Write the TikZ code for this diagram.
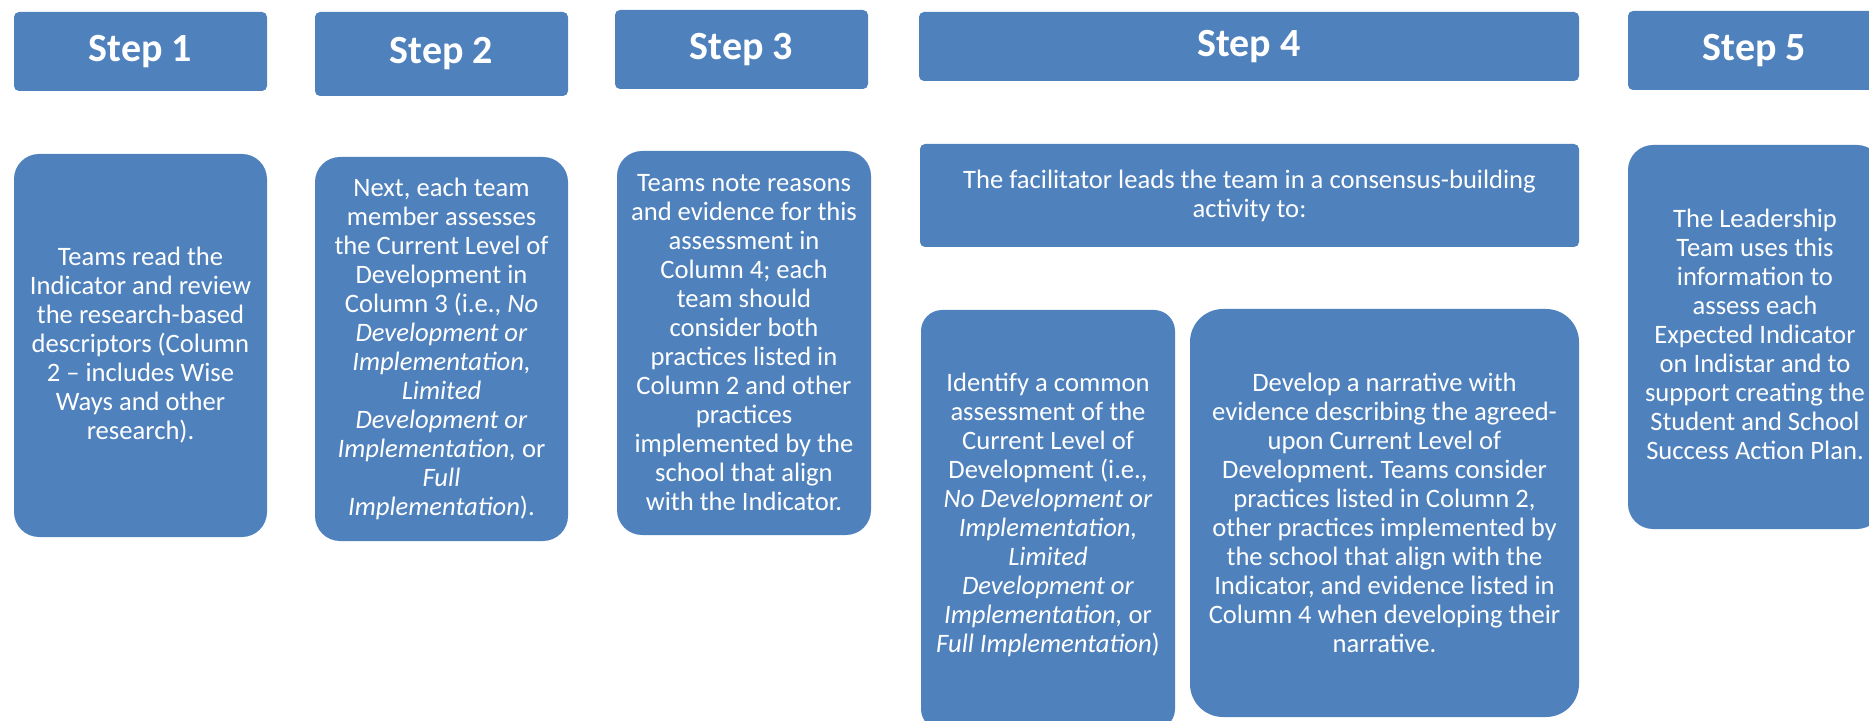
\documentclass[tikz,border=0pt]{standalone}
\usepackage{fontspec}
\setmainfont{Carlito}
\frenchspacing
\usetikzlibrary{fit}
\definecolor{stepblue}{HTML}{4F81BD}
\tikzset{
  panel/.style={fill=stepblue, draw=none, inner sep=0pt, outer sep=0pt},
  headbox/.style={panel, rounded corners=2.5pt},
  bodybox/.style={panel, rounded corners=12.5pt},
  headtext/.style={text=white, font={\fontsize{20}{24}\selectfont\bfseries}, inner sep=0pt},
  bodytext/.style={text=white, align=center, inner sep=0pt,
    font={\fontsize{13.3}{14.5}\selectfont}},
}
\begin{document}
\begin{tikzpicture}[x=0.5pt, y=-0.5pt]
\useasboundingbox (0,0) rectangle (1869,721);
\clip (0,0) rectangle (1869,721);

% header row
\node[headbox, fit={(14,12) (267,91)}] (h1) {};
\node[headbox, fit={(315,12) (568,96)}] (h2) {};
\node[headbox, fit={(615,10) (868,89)}] (h3) {};
\node[headbox, fit={(919,12) (1579,81)}] (h4) {};
\node[headbox, fit={(1628,11) (1881,90)}] (h5) {};

\node[headtext] (h1t) at (h1.center) {Step 1};
\node[headtext] (h2t) at (h2.center) {Step 2};
\node[headtext] (h3t) at (h3.center) {Step 3};
\node[headtext] (h4t) at (h4.center) {Step 4};
\node[headtext] (h5t) at (h5.center) {Step 5};

% body panels
\node[bodybox, fit={(14,154) (267,537)}] (b1) {};
\node[bodybox, fit={(315,157) (568,541)}] (b2) {};
\node[bodybox, fit={(617,151) (871,535)}] (b3) {};
\node[headbox, fit={(920,144) (1579,247)}] (b4) {};
\node[panel, rounded corners=10.5pt, fit={(921,310) (1175,730)}] (b4a) {};
\node[panel, rounded corners=16.5pt, fit={(1190,309) (1579,717)}] (b4b) {};
\node[bodybox, fit={(1628,145) (1882,529)}] (b5) {};

\node[bodytext] (b1t) at (b1.center) {Teams read the\\Indicator and review\\the research-based\\descriptors (Column\\2 – includes Wise\\Ways and other\\research).};

\node[bodytext] (b2t) at (b2.center) {Next, each team\\member assesses\\the Current Level of\\Development in\\Column 3 (i.e., \textit{No}\\\textit{Development or}\\\textit{Implementation,}\\\textit{Limited}\\\textit{Development or}\\\textit{Implementation,} or\\\textit{Full}\\\textit{Implementation}).};

\node[bodytext] (b3t) at (b3.center) {Teams note reasons\\and evidence for this\\assessment in\\Column 4; each\\team should\\consider both\\practices listed in\\Column 2 and other\\practices\\implemented by the\\school that align\\with the Indicator.};

\node[bodytext] (b4t) at (b4.center) {The facilitator leads the team in a consensus-building\\activity to:};

\node[bodytext] (b4at) at (1048,515) {Identify a common\\assessment of the\\Current Level of\\Development (i.e.,\\\textit{No Development or}\\\textit{Implementation,}\\\textit{Limited}\\\textit{Development or}\\\textit{Implementation,} or\\\textit{Full Implementation})};

\node[bodytext] (b4bt) at (b4b.center) {Develop a narrative with\\evidence describing the agreed-\\upon Current Level of\\Development. Teams consider\\practices listed in Column 2,\\other practices implemented by\\the school that align with the\\Indicator, and evidence listed in\\Column 4 when developing their\\narrative.};

\node[bodytext] (b5t) at (1755,334) {The Leadership\\Team uses this\\information to\\assess each\\Expected Indicator\\on Indistar and to\\support creating the\\Student and School\\Success Action Plan.};
\end{tikzpicture}
\end{document}
